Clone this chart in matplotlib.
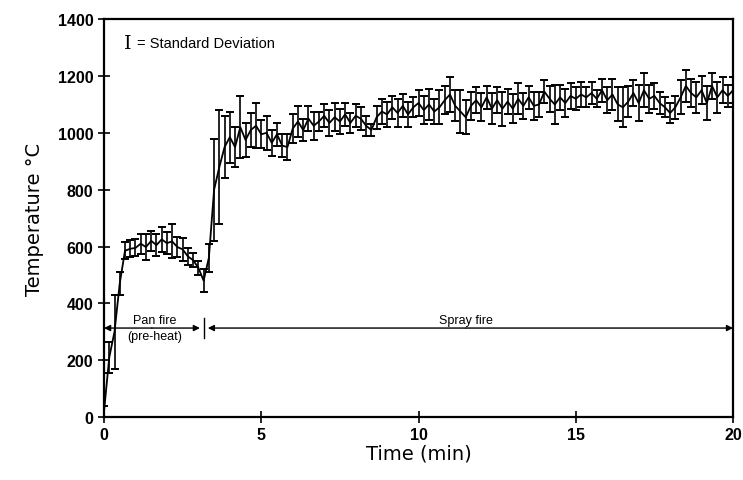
import numpy as np
import matplotlib
matplotlib.use("Agg")
import matplotlib.pyplot as plt

# ── Data (one sample every 10 s) ─────────────────────────────────────────────
time_min = np.arange(121) / 6.0

temp_mean = [
    20, 210, 300, 470, 585, 592,            # 0 min
    595, 610, 598, 620, 605, 625,           # 1
    612, 618, 598, 590, 565, 552,           # 2
    525, 480, 560, 800, 880, 950,           # 3
    985, 950, 1020, 975, 1010, 1025,        # 4
    995, 1000, 965, 995, 955, 950,          # 5
    1015, 1040, 1010, 1050, 1025, 1040,     # 6
    1060, 1035, 1055, 1040, 1065, 1035,     # 7
    1060, 1050, 1025, 1010, 1055, 1075,     # 8
    1065, 1090, 1070, 1095, 1065, 1090,     # 9
    1105, 1080, 1100, 1075, 1090, 1115,     # 10
    1135, 1095, 1075, 1055, 1095, 1115,     # 11
    1090, 1125, 1085, 1115, 1085, 1110,     # 12
    1085, 1120, 1095, 1125, 1095, 1100,     # 13
    1145, 1120, 1100, 1125, 1105, 1130,     # 14
    1120, 1135, 1125, 1140, 1120, 1150,     # 15
    1115, 1135, 1100, 1090, 1110, 1140,     # 16
    1105, 1150, 1120, 1130, 1105, 1090,     # 17
    1070, 1090, 1125, 1165, 1140, 1125,     # 18
    1150, 1105, 1165, 1125, 1150, 1130,     # 19
    1150,                                   # 20
]

temp_sd = [
    20, 55, 130, 40, 30, 30,
    30, 35, 45, 35, 40, 45,
    40, 60, 35, 40, 30, 25,
    25, 40, 50, 180, 200, 110,
    90, 70, 110, 60, 60, 80,
    50, 60, 45, 40, 40, 45,
    50, 55, 40, 45, 50, 35,
    40, 45, 50, 45, 40, 35,
    40, 40, 35, 20, 40, 45,
    45, 40, 50, 40, 45, 35,
    45, 50, 55, 45, 60, 50,
    60, 55, 75, 60, 50, 45,
    50, 40, 55, 45, 60, 45,
    50, 55, 45, 40, 50, 45,
    40, 45, 70, 45, 50, 45,
    40, 45, 35, 40, 30, 40,
    45, 55, 60, 70, 55, 45,
    65, 60, 50, 45, 40, 35,
    35, 40, 60, 55, 50, 55,
    50, 60, 45, 55, 45, 40,
    45,
]

pan_end = 3.05
split_t = 3.18
spray_start = 3.3
arrow_y = 313

# ── Plot ─────────────────────────────────────────────────────────────────────
plt.rcParams["font.family"] = ["Liberation Sans", "DejaVu Sans"]

fig = plt.figure(figsize=(7.43, 4.81), dpi=100)
ax = fig.add_axes([0.140, 0.131, 0.8466, 0.827])

ax.errorbar(time_min, temp_mean, yerr=temp_sd, color="black", lw=1.3,
            elinewidth=1.2, capsize=3.2, capthick=1.4)

ax.set_xlim(0, 20)
ax.set_ylim(0, 1400)
ax.set_xticks([0, 5, 10, 15, 20])
ax.set_yticks(range(0, 1401, 200))
ax.tick_params(direction="inout", length=8, width=1.2, labelsize=11.5)
for lab in ax.get_xticklabels() + ax.get_yticklabels():
    lab.set_fontweight("bold")
for s in ax.spines.values():
    s.set_linewidth(1.6)

ax.set_xlabel("Time (min)", fontsize=14, labelpad=1,
              family=["DejaVu Sans"])
ax.set_ylabel("Temperature °C", fontsize=14, labelpad=10,
              family=["DejaVu Sans"])

# phase annotations
arrow_kw = dict(arrowstyle="-|>", color="black", lw=1.0,
                mutation_scale=9, shrinkA=0, shrinkB=0)
ax.annotate("", xy=(0, arrow_y), xytext=((pan_end) / 2, arrow_y),
            arrowprops=arrow_kw)
ax.annotate("", xy=(pan_end, arrow_y), xytext=((pan_end) / 2, arrow_y),
            arrowprops=arrow_kw)
ax.annotate("", xy=(spray_start, arrow_y), xytext=(11.5, arrow_y),
            arrowprops=arrow_kw)
ax.annotate("", xy=(20, arrow_y), xytext=(11.5, arrow_y),
            arrowprops=arrow_kw)
ax.plot([split_t, split_t], [278, 348], color="black", lw=1.0)

ax.text(1.6, arrow_y + 8, "Pan fire", ha="center", va="bottom", fontsize=9)
ax.text(1.6, arrow_y - 8, "(pre-heat)", ha="center", va="top", fontsize=9)
ax.text(11.5, arrow_y + 8, "Spray fire", ha="center", va="bottom", fontsize=9)

# legend note
ax.text(0.75, 1315, "I", ha="center", va="center", fontsize=14,
        family=["DejaVu Serif"])
ax.text(1.05, 1315, "= Standard Deviation", ha="left", va="center",
        fontsize=10.5)

fig.savefig("out.png", dpi=100)
